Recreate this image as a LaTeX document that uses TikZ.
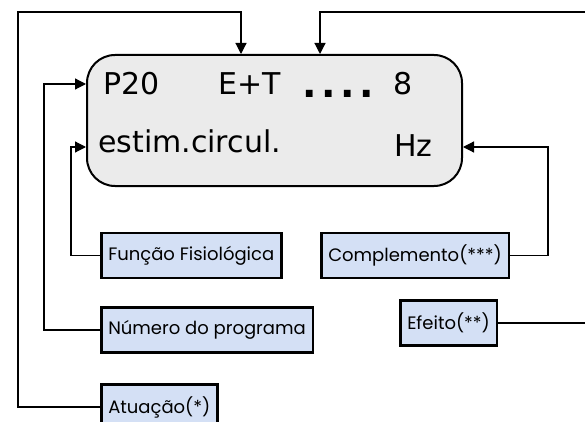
\documentclass[tikz,border=0pt]{standalone}
\usepackage{fontspec}
\usepackage{tikz}
\usetikzlibrary{arrows.meta}
\newfontfamily\visorfont{DejaVu Sans}
\newfontfamily\pontosfont[LetterSpace=12]{DejaVu Sans}
\newfontfamily\rotulofont{Poppins}
\definecolor{visorcinza}{HTML}{EBEBEB}
\definecolor{rotuloazul}{HTML}{D4E0F5}

\begin{document}
\begin{tikzpicture}[x=1pt, y=-1pt,
  every node/.style={font=\visorfont\fontsize{30}{36}\selectfont, anchor=base west, inner sep=0pt},
  campo/.style={rectangle, draw, line width=2.5pt, fill=rotuloazul, anchor=west, inner xsep=7pt, minimum height=45pt, font=\rotulofont\fontsize{18}{22}\selectfont},
  liga/.style={line width=1.2pt, -{Triangle[length=11pt, width=11pt]}}]
\useasboundingbox (0,0) rectangle (585,422);
\clip (0,0) rectangle (585,422);
\node[rectangle, draw, line width=2pt, rounded corners=28pt, fill=visorcinza, anchor=north west, minimum width=375pt, minimum height=131pt] (visor) at (86,54) {};
\node (prog) at (103,95) {P20};
\node (atu) at (218,95) {E+T};
\node[font=\pontosfont\bfseries\fontsize{38}{40}\selectfont] (pontos) at (302,98) {....};
\node (efe) at (393,95) {8};
\node (func) at (98,152) {estim.circul.};
\node (comp) at (394,157) {Hz};
\node[campo] (funcao) at (100,255.5) {Função Fisiológica};
\node[campo] (complemento) at (320,255.5) {Complemento(***)};
\node[campo] (numero) at (100,330) {Número do programa};
\node[campo] (efeito) at (399,323) {Efeito(**)};
\node[campo] (atuacao) at (100,407) {Atuação(*)};
\draw[liga] (atuacao.west) -| (18,12) -| (visor.north -| 241,0);
\draw[liga] (efeito.east) -| (600,12) -| (visor.north -| 320,0);
\draw[liga] (numero.west) -| (44,84) -- (visor.west |- 0,84);
\draw[liga] (funcao.west) -| (71,147) -- (visor.west |- 0,147);
\draw[liga] (complemento.east) -| (548,147) -- (visor.east |- 0,147);
\end{tikzpicture}
\end{document}
